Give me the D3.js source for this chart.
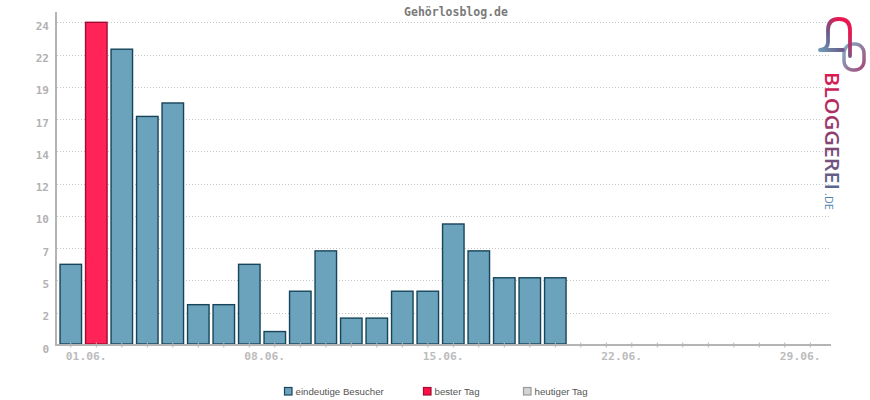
<!DOCTYPE html>
<html>
<head>
<meta charset="utf-8">
<script src="https://cdn.jsdelivr.net/npm/d3@7"></script>
<style>
  html, body { margin: 0; padding: 0; background: #fff; }
  svg { display: block; }
</style>
</head>
<body>
<div id="chart"></div>
<script>
// ---- data ----
const title = "Gehörlosblog.de";
const days = ["01.06.","02.06.","03.06.","04.06.","05.06.","06.06.","07.06.","08.06.","09.06.","10.06.",
              "11.06.","12.06.","13.06.","14.06.","15.06.","16.06.","17.06.","18.06.","19.06.","20.06.",
              "21.06.","22.06.","23.06.","24.06.","25.06.","26.06.","27.06.","28.06.","29.06.","30.06."];
const visitors = [6, 24, 22, 17, 18, 3, 3, 6, 1, 4, 7, 2, 2, 4, 4, 9, 7, 5, 5, 5];
const yTickValues = [0, 2.4, 4.8, 7.2, 9.6, 12, 14.4, 16.8, 19.2, 21.6, 24];
const yTickLabels = ["0", "2", "5", "7", "10", "12", "14", "17", "19", "22", "24"];
const xLabelDays = ["01.06.", "08.06.", "15.06.", "22.06.", "29.06."];
const legendItems = ["eindeutige Besucher", "bester Tag", "heutiger Tag"];

// ---- setup ----
const W = 870, H = 400;
const svg = d3.select("#chart").append("svg").attr("width", W).attr("height", H);

const x = d3.scaleBand().domain(days).range([58.05, 823.05]).padding(0);
const y = d3.scaleLinear().domain([0, 24]).range([345, 22.3]);
const bestVal = d3.max(visitors);

const monoFont = "'DejaVu Sans Mono', 'Liberation Mono', monospace";

// title
svg.append("text")
  .attr("x", 456).attr("y", 16)
  .attr("text-anchor", "middle")
  .attr("font-family", monoFont)
  .attr("font-weight", "bold")
  .attr("font-size", 11.5)
  .attr("fill", "#7a7a7a")
  .text(title);

// grid lines
svg.append("g").selectAll("line")
  .data(yTickValues.slice(1))
  .join("line")
  .attr("x1", 57).attr("x2", 829)
  .attr("y1", d => Math.round(y(d)) + 0.5)
  .attr("y2", d => Math.round(y(d)) + 0.5)
  .attr("stroke", "#c4c4c4")
  .attr("stroke-width", 1)
  .attr("stroke-dasharray", "1,2");

// y axis
const yAxis = d3.axisLeft(y)
  .tickValues(yTickValues)
  .tickFormat((d, i) => yTickLabels[i])
  .tickSize(0)
  .tickPadding(0);
const gy = svg.append("g").attr("transform", "translate(49,0)").call(yAxis);
gy.select(".domain").remove();
gy.selectAll("text")
  .attr("x", 0)
  .attr("dy", "7px")
  .attr("font-family", monoFont)
  .attr("font-weight", "bold")
  .attr("font-size", 11)
  .attr("fill", "#b2b2b2");

svg.append("line")
  .attr("x1", 56).attr("x2", 56)
  .attr("y1", 12).attr("y2", 346)
  .attr("stroke", "#b4b4b4").attr("stroke-width", 2);

// bars
const bw = x.bandwidth();
svg.append("g").selectAll("rect")
  .data(visitors)
  .join("rect")
  .attr("x", (d, i) => x(days[i]) + 2)
  .attr("width", bw - 4)
  .attr("y", d => y(d))
  .attr("height", d => y(0) - 1 - y(d))
  .attr("fill", d => d === bestVal ? "#ff2357" : "#6aa3bb")
  .attr("stroke", d => d === bestVal ? "#a00c33" : "#17445a")
  .attr("stroke-width", 1.4);

// x axis ticks
const xAxis = d3.axisBottom(x).tickSize(5).tickFormat("");
const gx = svg.append("g").attr("transform", "translate(0,342.5)").call(xAxis);
gx.select(".domain").remove();
gx.selectAll(".tick line").attr("stroke", "#b4b4b4").attr("stroke-width", 1);

// x axis line
svg.append("line")
  .attr("x1", 55).attr("x2", 831)
  .attr("y1", 345).attr("y2", 345)
  .attr("stroke", "#b4b4b4").attr("stroke-width", 2);

// x labels
svg.append("g").selectAll("text")
  .data(xLabelDays)
  .join("text")
  .attr("x", d => x(d) + bw / 2 - 5)
  .attr("y", 360)
  .attr("font-family", monoFont)
  .attr("font-weight", "bold")
  .attr("font-size", 11.3)
  .attr("fill", "#bcbcbc")
  .text(d => d);

// legend
const legendX = [284, 423, 523];
const legendFill = ["#6aa3bb", "#ff0f47", "#d4d4d4"];
const legendStroke = ["#17445a", "#a00c33", "#999999"];
const lg = svg.append("g");
legendItems.forEach((t, i) => {
  lg.append("rect")
    .attr("x", legendX[i] + 0.5).attr("y", 387.5)
    .attr("width", 7.5).attr("height", 7.5)
    .attr("fill", legendFill[i])
    .attr("stroke", legendStroke[i])
    .attr("stroke-width", 1.2);
  lg.append("text")
    .attr("x", legendX[i] + 11.5).attr("y", 395)
    .attr("font-family", "'Liberation Sans', Arial, sans-serif")
    .attr("font-size", 9.7)
    .attr("fill", "#555")
    .text(t);
});

// logo
const defs = svg.append("defs");
const g1 = defs.append("linearGradient").attr("id", "gArch")
  .attr("x1", 0).attr("y1", 1).attr("x2", 1).attr("y2", 0);
g1.append("stop").attr("offset", "0%").attr("stop-color", "#6fa6bf");
g1.append("stop").attr("offset", "45%").attr("stop-color", "#6a5d8a");
g1.append("stop").attr("offset", "80%").attr("stop-color", "#e8174f");
g1.append("stop").attr("offset", "100%").attr("stop-color", "#e8174f");
const g2 = defs.append("linearGradient").attr("id", "gRing")
  .attr("x1", 0).attr("y1", 0).attr("x2", 1).attr("y2", 1);
g2.append("stop").attr("offset", "0%").attr("stop-color", "#7fb3c9");
g2.append("stop").attr("offset", "100%").attr("stop-color", "#a5487a");
const g3 = defs.append("linearGradient").attr("id", "gText")
  .attr("x1", 0).attr("y1", 0).attr("x2", 1).attr("y2", 0);
g3.append("stop").attr("offset", "0%").attr("stop-color", "#e0174f");
g3.append("stop").attr("offset", "55%").attr("stop-color", "#8a4070");
g3.append("stop").attr("offset", "100%").attr("stop-color", "#56688f");

const logo = svg.append("g");
logo.append("rect")
  .attr("x", 844).attr("y", 44).attr("width", 20).attr("height", 26).attr("rx", 9)
  .attr("fill", "none").attr("stroke", "url(#gRing)").attr("stroke-width", 3.5);
logo.append("path")
  .attr("d", "M 820,50 L 843,50 M 820,50 Q 828,49 828,42 L 828,30 Q 828,19 839,19 Q 850,19 850,30 L 850,56")
  .attr("fill", "none").attr("stroke", "url(#gArch)").attr("stroke-width", 3.8)
  .attr("stroke-linecap", "round");

logo.append("text")
  .attr("transform", "translate(825,72) rotate(90)")
  .attr("font-family", "'Open Sans', 'DejaVu Sans', sans-serif")
  .attr("font-weight", 600)
  .attr("font-size", 20)
  .attr("textLength", 118)
  .attr("lengthAdjust", "spacingAndGlyphs")
  .attr("fill", "url(#gText)")
  .text("BLOGGEREI");
logo.append("text")
  .attr("transform", "translate(825,193) rotate(90)")
  .attr("font-family", "'Open Sans', 'DejaVu Sans', sans-serif")
  .attr("font-size", 11)
  .attr("fill", "#4f86ad")
  .text(".DE");
</script>
</body>
</html>
